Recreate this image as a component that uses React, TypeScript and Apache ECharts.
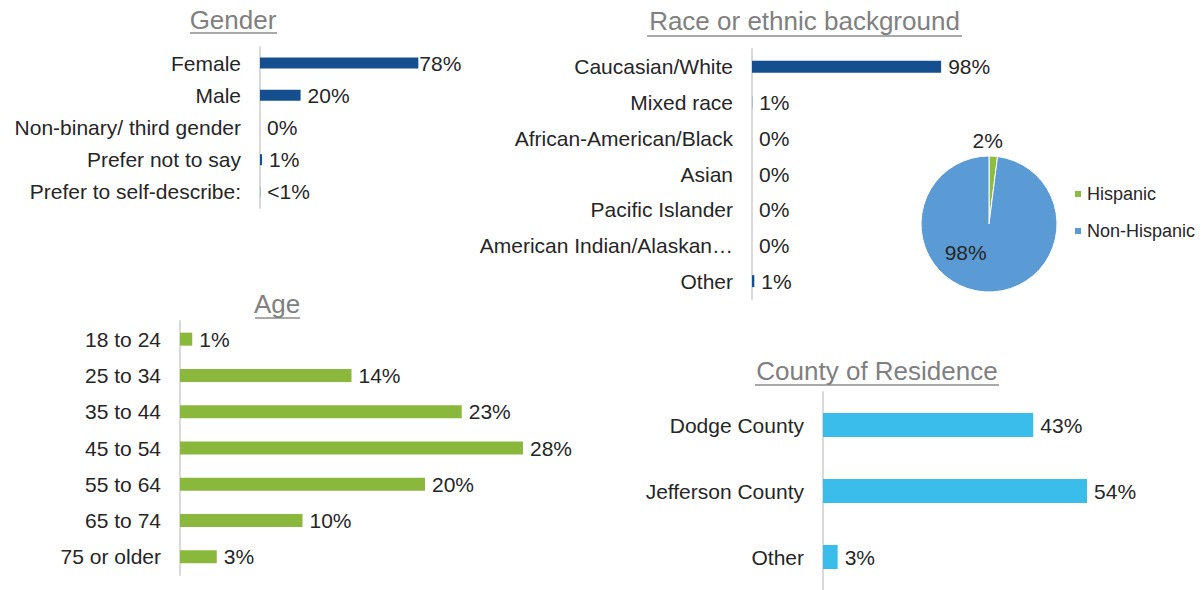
import React, { useEffect, useRef } from "react";
import * as echarts from "echarts";

const genderCats = ["Female", "Male", "Non-binary/ third gender", "Prefer not to say", "Prefer to self-describe:"];
const genderVals = [78, 20, 0, 1, 0.1];
const genderLabels = ["78%", "20%", "0%", "1%", "<1%"];

const raceCats = [
  "Caucasian/White",
  "Mixed race",
  "African-American/Black",
  "Asian",
  "Pacific Islander",
  "American Indian/Alaskan Native",
  "Other",
];
const raceVals = [98, 0.1, 0, 0, 0, 0, 1.2];
const raceLabels = ["98%", "1%", "0%", "0%", "0%", "0%", "1%"];

const hispCats = ["Hispanic", "Non-Hispanic"];
const hispVals = [2, 98];

const ageCats = ["18 to 24", "25 to 34", "35 to 44", "45 to 54", "55 to 64", "65 to 74", "75 or older"];
const ageVals = [1, 14, 23, 28, 20, 10, 3];

const countyCats = ["Dodge County", "Jefferson County", "Other"];
const countyVals = [43, 54, 3];

const TXT = "#262626";
const FONT = "Liberation Sans, Arial, sans-serif";

export default function App() {
  const ref = useRef<HTMLDivElement>(null);
  useEffect(() => {
    if (!ref.current) return;
    const chart = echarts.init(ref.current, null, { renderer: "svg" });

    const grids = [
      { left: 260, top: 47, width: 203, height: 161 },
      { left: 752, top: 49, width: 193, height: 250 },
      { left: 180, top: 321, width: 367.5, height: 254 },
      { left: 823, top: 392, width: 293.4, height: 199.5 },
    ];
    const maxes = [100, 100, 30, 60];
    const cats = [genderCats, raceCats, ageCats, countyCats];
    const barW = [11, 12, 13, 24];
    const colors = ["#164f8f", "#164f8f", "#8ab83d", "#3bbdec"];
    const vals = [genderVals, raceVals, ageVals, countyVals];
    const labs: (string[] | null)[] = [genderLabels, raceLabels, null, null];

    const xAxis = grids.map((_, i) => ({
      type: "value",
      gridIndex: i,
      min: 0,
      max: maxes[i],
      show: false,
    }));
    const yAxis = grids.map((_, i) => ({
      type: "category",
      gridIndex: i,
      inverse: true,
      data: cats[i],
      axisLine: { show: true, lineStyle: { color: "#d9d9d9", width: 2 } },
      axisTick: { show: false },
      splitLine: { show: false },
      axisLabel: {
        fontSize: 21,
        color: TXT,
        fontFamily: FONT,
        margin: 19,
        width: 264,
        overflow: "truncate",
        ellipsis: "…",
      },
    }));
    const barSeries = grids.map((_, i) => ({
      type: "bar",
      xAxisIndex: i,
      yAxisIndex: i,
      barWidth: barW[i],
      itemStyle: { color: colors[i] },
      data: vals[i].map((v, j) =>
        i === 0 && j === 0 ? { value: v, label: { distance: 1 } } : v
      ),
      label: {
        show: true,
        position: "right",
        distance: 7,
        fontSize: 21,
        color: TXT,
        fontFamily: FONT,
        formatter: (p: any) => (labs[i] ? (labs[i] as string[])[p.dataIndex] : p.value + "%"),
      },
    }));

    const titles = [
      { text: "Gender", x: 233, y: 7 },
      { text: "Race or ethnic background", x: 804.5, y: 8 },
      { text: "Age", x: 277, y: 291 },
      { text: "County of Residence", x: 877, y: 358 },
    ];
    const underlines = [
      [190, 277, 33],
      [647, 962, 36],
      [255, 300, 318],
      [755, 999, 385],
    ];

    chart.setOption({
      animation: false,
      backgroundColor: "#ffffff",
      textStyle: { fontFamily: FONT },
      title: titles.map((t) => ({
        text: t.text,
        left: t.x,
        top: t.y,
        textAlign: "center",
        padding: 0,
        textStyle: { fontSize: 26, fontWeight: "normal", color: "#808080", fontFamily: FONT },
      })),
      graphic: underlines.map((u) => ({
        type: "line",
        shape: { x1: u[0], y1: u[2], x2: u[1], y2: u[2] },
        style: { stroke: "#8c8c8c", lineWidth: 1.5 },
      })),
      legend: {
        orient: "vertical",
        left: 1068,
        top: 180,
        itemWidth: 8,
        itemHeight: 8,
        itemGap: 19,
        icon: "rect",
        data: hispCats,
        textStyle: { fontSize: 18, color: TXT, fontFamily: FONT },
      },
      grid: grids,
      xAxis,
      yAxis,
      series: [
        ...barSeries,
        {
          type: "pie",
          center: [989, 224],
          radius: 68,
          startAngle: 90,
          clockwise: true,
          itemStyle: { borderColor: "#ffffff", borderWidth: 1 },
          labelLine: { show: false },
          data: hispCats.map((n, i) => ({
            name: n,
            value: hispVals[i],
            itemStyle: { color: i === 0 ? "#8cbd3f" : "#5b9bd5" },
            label:
              i === 0
                ? { show: true, position: "outside", fontSize: 21, color: TXT, formatter: "{d}%", offset: [-26, -12] }
                : { show: true, position: "inside", fontSize: 21, color: TXT, formatter: "{d}%", offset: [-21, -8] },
            labelLine: { show: false, length: 4, length2: 0 },
          })),
        },
      ],
    });
    return () => chart.dispose();
  }, []);
  return (
    <div
      ref={ref}
      style={{ position: "absolute", left: 0, top: 0, width: 1202, height: 590, background: "#fff" }}
    />
  );
}
